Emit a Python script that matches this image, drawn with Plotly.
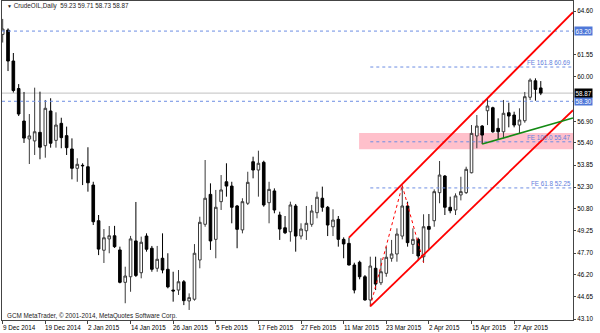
import plotly.graph_objects as go
import pandas as pd

# ---------------- data ----------------
HOLIDAYS = ["2014-12-25", "2015-01-01", "2015-04-03"]
dates = [d.strftime("%Y-%m-%d") for d in pd.bdate_range("2014-12-09", "2015-05-04")
         if d.strftime("%Y-%m-%d") not in HOLIDAYS]

O = [62.97, 63.27, 61.11, 59.19, 56.92, 55.67, 55.53, 56.13, 55.20, 57.62,
     55.57, 56.76, 55.90, 54.97, 53.62, 53.83, 53.73, 52.45, 49.96, 47.90,
     48.69, 48.91, 47.92, 45.66, 46.05, 48.55, 46.33, 48.89, 48.04, 46.64,
     47.34, 46.57, 45.12, 45.12, 45.70, 44.36, 44.48, 47.22, 49.71, 51.80,
     48.66, 51.29, 52.68, 52.38, 50.99, 49.32, 51.18, 54.08, 53.50, 54.04,
     51.22, 52.04, 50.36, 49.47, 49.19, 50.99, 48.89, 49.26, 49.71, 50.52,
     51.53, 50.90, 49.54, 50.06, 48.66, 48.38, 46.87, 47.06, 46.05, 44.43,
     46.64, 45.63, 46.29, 47.34, 47.64, 48.89, 50.99, 48.31, 48.66, 47.45,
     49.56, 49.96, 51.92, 53.08, 50.90, 50.71, 51.76, 51.92, 53.31, 55.88,
     56.57, 57.64, 57.85, 56.41, 56.17, 57.50, 57.34, 56.64, 56.94, 58.58,
     59.73, 59.23]
H = [64.05, 63.39, 61.67, 59.50, 58.95, 57.41, 59.25, 58.97, 58.39, 58.51,
     57.53, 57.15, 56.53, 55.71, 54.32, 53.97, 55.09, 52.68, 50.36, 49.38,
     49.59, 49.60, 48.15, 46.75, 48.90, 51.27, 48.85, 49.08, 48.20, 48.20,
     49.08, 47.69, 46.40, 46.52, 45.82, 44.89, 48.33, 50.24, 54.20, 52.57,
     52.11, 53.15, 53.97, 52.68, 51.06, 51.53, 53.38, 54.43, 54.85, 54.15,
     52.68, 52.22, 50.59, 50.29, 51.29, 51.13, 49.78, 50.99, 51.06, 51.99,
     52.34, 50.99, 50.76, 50.29, 48.80, 48.78, 47.03, 47.17, 46.17, 47.45,
     47.45, 47.34, 48.15, 48.62, 49.43, 52.42, 51.29, 49.43, 48.78, 50.41,
     50.43, 52.15, 54.13, 53.15, 51.64, 51.87, 53.03, 53.73, 56.64, 57.34,
     56.64, 58.51, 57.92, 57.11, 58.39, 58.20, 57.57, 57.81, 58.95, 59.90,
     59.90, 59.71]
L = [62.40, 60.41, 58.91, 57.27, 55.39, 53.92, 54.55, 54.25, 54.36, 55.06,
     55.06, 55.02, 54.55, 52.85, 52.68, 52.45, 51.99, 49.66, 47.56, 47.01,
     47.69, 48.06, 45.59, 44.20, 45.00, 46.03, 45.94, 47.80, 46.40, 46.40,
     46.29, 45.24, 44.31, 44.78, 44.07, 43.73, 44.38, 46.64, 49.54, 47.92,
     47.34, 50.71, 51.64, 49.78, 48.04, 49.08, 51.06, 52.92, 51.64, 50.94,
     49.78, 50.48, 48.62, 49.03, 48.50, 47.80, 48.66, 48.62, 49.54, 50.13,
     50.59, 48.89, 48.89, 48.15, 47.34, 46.84, 44.89, 45.87, 44.38, 43.98,
     45.12, 45.47, 46.05, 47.10, 47.10, 48.66, 48.15, 47.64, 47.22, 47.03,
     47.99, 49.54, 51.18, 50.36, 50.48, 50.36, 51.38, 51.83, 53.27, 55.02,
     55.31, 56.64, 56.10, 55.64, 55.71, 56.48, 56.48, 56.06, 56.80, 58.39,
     58.34, 58.73]
C = [63.34, 61.11, 59.05, 57.41, 55.73, 55.88, 56.17, 55.09, 57.81, 55.37,
     56.64, 55.76, 55.06, 53.62, 53.90, 53.80, 52.61, 49.89, 47.98, 48.77,
     48.91, 48.15, 45.66, 46.10, 48.69, 46.14, 48.46, 47.97, 46.57, 47.27,
     46.52, 45.34, 45.06, 45.70, 44.38, 44.59, 47.69, 49.85, 51.53, 48.55,
     50.90, 52.11, 52.38, 50.90, 49.36, 51.29, 52.64, 53.50, 53.97, 51.06,
     52.15, 50.71, 49.38, 49.12, 51.06, 48.89, 49.38, 49.78, 50.64, 51.60,
     50.90, 49.66, 50.01, 48.66, 48.34, 46.87, 45.12, 46.05, 44.43, 46.80,
     45.54, 46.40, 47.41, 47.64, 49.03, 50.99, 48.43, 48.66, 47.50, 49.54,
     49.36, 51.99, 53.15, 50.90, 50.66, 51.69, 51.99, 53.55, 56.06, 56.57,
     55.94, 57.97, 56.17, 56.17, 57.46, 57.27, 56.64, 56.99, 58.62, 59.78,
     59.13, 58.87]

tick_dates = ["2014-12-09", "2014-12-19", "2015-01-02", "2015-01-14", "2015-01-26",
              "2015-02-05", "2015-02-17", "2015-02-27", "2015-03-11", "2015-03-23",
              "2015-04-02", "2015-04-15", "2015-04-27"]
tick_labels = ["9 Dec 2014", "19 Dec 2014", "2 Jan 2015", "14 Jan 2015", "26 Jan 2015",
               "5 Feb 2015", "17 Feb 2015", "27 Feb 2015", "11 Mar 2015", "23 Mar 2015",
               "2 Apr 2015", "15 Apr 2015", "27 Apr 2015"]
price_ticks = [64.60, 61.55, 60.00, 56.90, 55.40, 53.85, 52.30, 50.80,
               49.25, 47.70, 46.20, 44.65, 43.10]

level_lines = [63.20, 58.30]            # horizontal lines, full width
bid_price = C[-1]                       # 58.87
fe_levels = [("FE 161.8", 60.69), ("FE 100.0", 55.47), ("FE 61.8", 52.25)]
fe_start = "2015-03-18"                 # first anchor of the expansion (swing low)
zone = ("2015-03-16", 54.95, 56.09)     # pink zone start, bottom, top

# trend-line anchor bars (drawn through the bars' highs / lows)
upper_anchor = ("2015-03-12", "2015-04-20")   # highs
lower_anchor = ("2015-03-18", "2015-03-31")   # lows
green_anchor = ("2015-04-17", "2015-04-28")   # lows
fe_points = [("2015-03-18", "low"), ("2015-03-26", "high"), ("2015-04-01", "low")]

X_MIN, X_MAX = -0.13, 107.05
Y_MIN, Y_MAX = 43.03, 65.30

# ---------------- figure ----------------
idx = {d: i for i, d in enumerate(dates)}

fig = go.Figure()
fig.add_trace(go.Candlestick(
    x=dates, open=O, high=H, low=L, close=C,
    increasing=dict(line=dict(color="#3a3a3a", width=1), fillcolor="white"),
    decreasing=dict(line=dict(color="black", width=1), fillcolor="black"),
    whiskerwidth=0, hoverinfo="skip", showlegend=False))

shapes = []
BLUE = "#6d8de3"
# pink zone
shapes.append(dict(type="rect", xref="x", yref="y", x0=idx[zone[0]] - 0.1, x1=X_MAX,
                   y0=zone[1], y1=zone[2], fillcolor="#ffc0cb", line=dict(width=0),
                   layer="below"))
# bid line
shapes.append(dict(type="line", xref="x", yref="y", x0=X_MIN, x1=X_MAX, y0=bid_price,
                   y1=bid_price, line=dict(color="#c0c0c0", width=1), layer="below"))
for lv in level_lines:
    shapes.append(dict(type="line", xref="x", yref="y", x0=X_MIN, x1=X_MAX, y0=lv, y1=lv,
                       line=dict(color=BLUE, width=1, dash="dot")))
for _, lv in fe_levels:
    shapes.append(dict(type="line", xref="x", yref="y", x0=idx[fe_start], x1=X_MAX,
                       y0=lv, y1=lv, line=dict(color=BLUE, width=1, dash="dot")))


def ray(d0, p0, d1, p1):
    i0, i1 = idx[d0], idx[d1]
    slope = (p1 - p0) / (i1 - i0)
    return dict(type="line", xref="x", yref="y", x0=i0, y0=p0, x1=X_MAX,
                y1=p0 + slope * (X_MAX - i0))


r = ray(upper_anchor[0], H[idx[upper_anchor[0]]], upper_anchor[1], H[idx[upper_anchor[1]]])
r["line"] = dict(color="#ff0000", width=1.8)
shapes.append(r)
r = ray(lower_anchor[0], L[idx[lower_anchor[0]]], lower_anchor[1], L[idx[lower_anchor[1]]])
r["line"] = dict(color="#ff0000", width=1.8)
shapes.append(r)
r = ray(green_anchor[0], L[idx[green_anchor[0]]], green_anchor[1], L[idx[green_anchor[1]]])
r["line"] = dict(color="#138a13", width=1.6)
shapes.append(r)

pts = [(idx[d], H[idx[d]] if k == "high" else L[idx[d]]) for d, k in fe_points]
for (a, pa), (b, pb) in zip(pts[:-1], pts[1:]):
    shapes.append(dict(type="line", xref="x", yref="y", x0=a, y0=pa, x1=b, y1=pb,
                       line=dict(color="#ff0000", width=1, dash="dot")))

FONT = "Liberation Sans, Arial, sans-serif"
FS = 6.3
annotations = []
for name, lv in fe_levels:
    annotations.append(dict(xref="paper", yref="y", x=1, y=lv, xanchor="right",
                            yanchor="bottom", xshift=-1, showarrow=False,
                            text=f"{name} {lv:.2f}", font=dict(family=FONT, size=FS, color="#5f80dc"),
                            borderpad=0))
# price labels on the axis
for lv, bg in [(level_lines[0], "#4f78d8"), (level_lines[1], "#4f78d8"), (bid_price, "black")]:
    annotations.append(dict(xref="paper", yref="y", x=1, y=lv, xanchor="left", yanchor="middle",
                            xshift=1, showarrow=False, text=f"{lv:.2f}", bgcolor=bg,
                            font=dict(family=FONT, size=FS, color="white"), borderpad=0.5))
# time-axis labels (left aligned at their tick, as in MetaTrader)
for d, t in zip(tick_dates, tick_labels):
    annotations.append(dict(xref="x", yref="paper", x=idx[d], y=-7.7 / 319, xanchor="left",
                            yanchor="middle", xshift=-1, showarrow=False, text=t, borderpad=0,
                            font=dict(family=FONT, size=FS, color="black")))
# title
annotations.append(dict(xref="paper", yref="paper", x=3 / 571, y=1 - 5 / 319, xanchor="left",
                        yanchor="middle", showarrow=False,
                        text=f"<span style='font-size:5px'>▼</span> CrudeOIL,Daily  "
                             f"{O[-1]:.2f} {H[-1]:.2f} {L[-1]:.2f} {C[-1]:.2f}",
                        font=dict(family=FONT, size=FS, color="#222")))
annotations.append(dict(xref="paper", yref="paper", x=3 / 571, y=4 / 319, xanchor="left",
                        yanchor="middle", showarrow=False,
                        text="GCM MetaTrader, © 2001-2014, MetaQuotes Software Corp.",
                        font=dict(family=FONT, size=FS, color="#222")))

fig.update_layout(
    width=600, height=333,
    margin=dict(l=2, r=27, t=1, b=13, pad=0),
    paper_bgcolor="white", plot_bgcolor="white",
    shapes=shapes, annotations=annotations,
    showlegend=False, boxgap=0.3,
    xaxis=dict(type="category", range=[X_MIN, X_MAX], rangeslider=dict(visible=False),
               tickmode="array", tickvals=tick_dates, showticklabels=False,
               ticks="outside", ticklen=3,
               tickcolor="#444", showgrid=False, zeroline=False, showline=True,
               linecolor="#444", linewidth=1, mirror=True, automargin=False),
    yaxis=dict(side="right", range=[Y_MIN, Y_MAX], tickmode="array", tickvals=price_ticks,
               ticktext=[f"{v:.2f}" for v in price_ticks], ticks="outside", ticklen=2,
               tickcolor="#444", showgrid=False, zeroline=False, showline=True,
               linecolor="#444", linewidth=1, mirror=True, automargin=False,
               tickfont=dict(family=FONT, size=FS, color="black")),
)

fig.write_html("out.html", config={"displayModeBar": False})
